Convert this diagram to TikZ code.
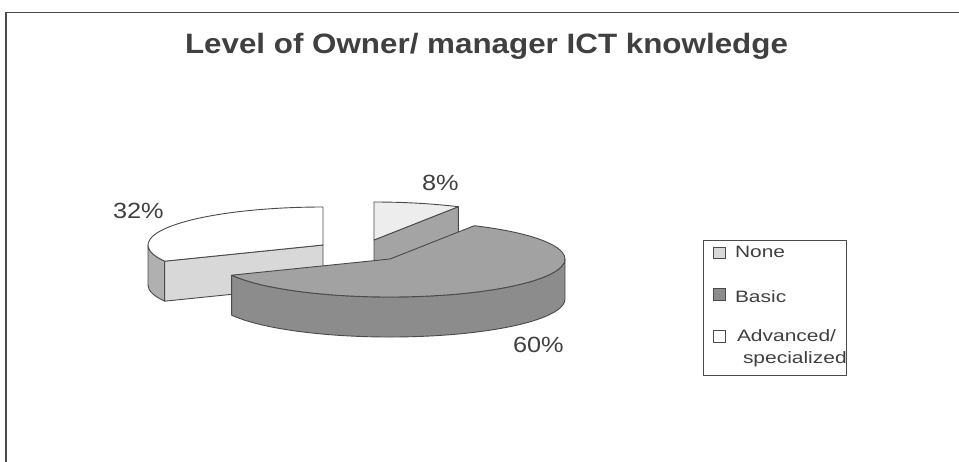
\documentclass[tikz,border=0pt]{standalone}
\usepackage{fontspec}
\usetikzlibrary{calc}
\setmainfont{Liberation Sans}
\newfontfamily\titlefont{Liberation Sans}[FakeStretch=1.12]
\newfontfamily\labfont{Liberation Sans}[FakeStretch=1.15]
\newfontfamily\legfont{Liberation Sans}[FakeStretch=1.27]
\definecolor{ink}{HTML}{404040}
\definecolor{edge}{HTML}{4A4A4A}
\definecolor{basictop}{HTML}{A2A2A2}
\definecolor{basicside}{HTML}{8C8C8C}
\definecolor{nonetop}{HTML}{EDEDED}
\definecolor{noneside}{HTML}{A4A4A4}
\definecolor{advface}{HTML}{D8D8D8}
\definecolor{advside}{HTML}{B0B0B0}
\tikzset{
  face/.style={draw=edge, line width=0.9pt, line join=round},
  txt/.style={inner sep=0pt, outer sep=0pt, anchor=base west, text=ink},
  legsq/.style={draw=edge, line width=0.8pt},
}
\begin{document}
\begin{tikzpicture}[x=1pt,y=1pt,yscale=-1]
\useasboundingbox (0,0) rectangle (959,461);
\fill[white] (0,0) rectangle (959,461);
% outer frame (runs off the right and bottom edges)
\draw[edge, line width=1.2pt] (6,475) -- (6,12.5) -- (975,12.5);

% title
\node[txt, font=\titlefont\bfseries\fontsize{28}{32}\selectfont] (title) at (185,53) {Level of Owner/ manager ICT knowledge};

% ---- Advanced/specialized slice (exploded to the left) ----
\coordinate (A) at (323,245);
\coordinate (Aq) at ($(A)+(154.8:175 and 38)$);
% outer side (small visible strip)
\path[face, fill=advside] (Aq) arc[start angle=154.8, end angle=180, x radius=175, y radius=38]
  -- ++(0,40) arc[start angle=180, end angle=154.8, x radius=175, y radius=38] -- cycle;
% radial face
\path[face, fill=advface] (A) -- (Aq) -- ($(Aq)+(0,40)$) -- ($(A)+(0,40)$) -- cycle;
% top
\path[face, fill=white] (A) -- (Aq) arc[start angle=154.8, end angle=270, x radius=175, y radius=38] -- cycle;

% ---- None slice (exploded to the top) ----
\coordinate (N) at (374,240);
\coordinate (Np) at ($(N)+(-61.2:175 and 38)$);
\coordinate (Nt) at ($(N)+(-90:175 and 38)$);
\path[face, fill=noneside] (N) -- (Np) -- ($(Np)+(0,40)$) -- ($(N)+(0,40)$) -- cycle;
\path[face, fill=nonetop] (N) -- (Nt) arc[start angle=-90, end angle=-61.2, x radius=175, y radius=38] -- cycle;

% ---- Basic slice ----
\coordinate (B) at (390,259);
\coordinate (Bp) at ($(B)+(-61.2:175 and 38)$);
\coordinate (Bq) at ($(B)+(154.8:175 and 38)$);
\coordinate (Br) at ($(B)+(175,0)$);
\path[face, fill=basicside] (Br) arc[start angle=0, end angle=154.8, x radius=175, y radius=38]
  -- ++(0,40) arc[start angle=154.8, end angle=0, x radius=175, y radius=38] -- cycle;
\path[face, fill=basictop] (B) -- (Bp) arc[start angle=-61.2, end angle=154.8, x radius=175, y radius=38] -- cycle;

% percentage labels
\node[txt, font=\labfont\fontsize{22}{26}\selectfont] (l32) at (113,218) {32\%};
\node[txt, font=\labfont\fontsize{22}{26}\selectfont] (l8) at (422,190) {8\%};
\node[txt, font=\labfont\fontsize{22}{26}\selectfont] (l60) at (513,352) {60\%};

% legend
\draw[edge, line width=0.9pt] (703,240) rectangle (846,375);
\draw[legsq, fill=advface] (713,247) rectangle (725,258);
\draw[legsq, fill=basicside] (713,288) rectangle (725,300);
\draw[legsq, fill=white] (713,330) rectangle (725,342);
\node[txt, font=\legfont\fontsize{16.5}{19}\selectfont] (lnone) at (735,257) {None};
\node[txt, font=\legfont\fontsize{16.5}{19}\selectfont] (lbasic) at (735,302) {Basic};
\node[txt, font=\legfont\fontsize{16.5}{19}\selectfont] (ladv) at (737,341) {Advanced/};
\node[txt, font=\legfont\fontsize{16.5}{19}\selectfont] (lspec) at (743,363) {specialized};
\end{tikzpicture}
\end{document}
